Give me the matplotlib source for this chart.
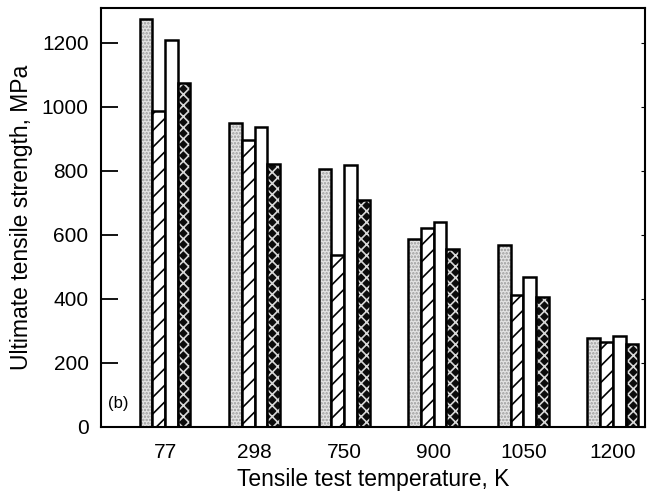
import numpy as np
import matplotlib.pyplot as plt

plt.rcParams['font.family'] = ['Liberation Sans', 'DejaVu Sans']
plt.rcParams['hatch.linewidth'] = 1.2

temperatures = ['77', '298', '750', '900', '1050', '1200']
series_a = [1274, 950, 804, 586, 568, 276]
series_b = [986, 896, 537, 622, 412, 264]
series_c = [1208, 936, 818, 641, 469, 283]
series_d = [1073, 821, 708, 554, 406, 257]

fig = plt.figure(figsize=(6.52, 4.95), dpi=100)
ax = fig.add_axes([0.155, 0.138, 0.834, 0.845])

x = np.arange(len(temperatures))
w = 0.142
offsets = [-1.5 * w, -0.5 * w, 0.5 * w, 1.5 * w]

# fill styles: (face, hatch, hatch colour)
styles = [
    ('#e4e4e4', '.....', '#9a9a9a'),
    ('white', '//', 'black'),
    ('white', None, 'black'),
    ('#0c0c0c', 'xxx', '#d8d8d8'),
]

for vals, off, (face, hatch, hcol) in zip([series_a, series_b, series_c, series_d], offsets, styles):
    ax.bar(x + off, vals, width=w, color=face, edgecolor=hcol, hatch=hatch, linewidth=0)
    ax.bar(x + off, vals, width=w, fill=False, edgecolor='black', linewidth=1.8)

ax.set_xlim(-0.714, 5.357)
ax.set_ylim(0, 1307)
ax.set_xticks(x)
ax.set_xticklabels(temperatures, fontsize=15)
ax.set_yticks(range(0, 1201, 200))
ax.tick_params(axis='y', which='both', direction='in', length=12, width=1.3, labelsize=15, pad=9)
ax.tick_params(axis='y', right=True)
ax.tick_params(axis='x', length=0, pad=12)
for t in ax.yaxis.get_major_ticks():
    t.tick2line.set_markersize(3)
    t.tick2line.set_markeredgewidth(0.8)
for s in ax.spines.values():
    s.set_linewidth(1.5)

ax.text(0.012, 0.045, '(b)', transform=ax.transAxes, fontsize=12)
ax.set_xlabel('Tensile test temperature, K', fontsize=16.5, labelpad=4)
ax.set_ylabel('Ultimate tensile strength, MPa', fontsize=16.5, labelpad=6)

fig.savefig('out.png', dpi=100)
